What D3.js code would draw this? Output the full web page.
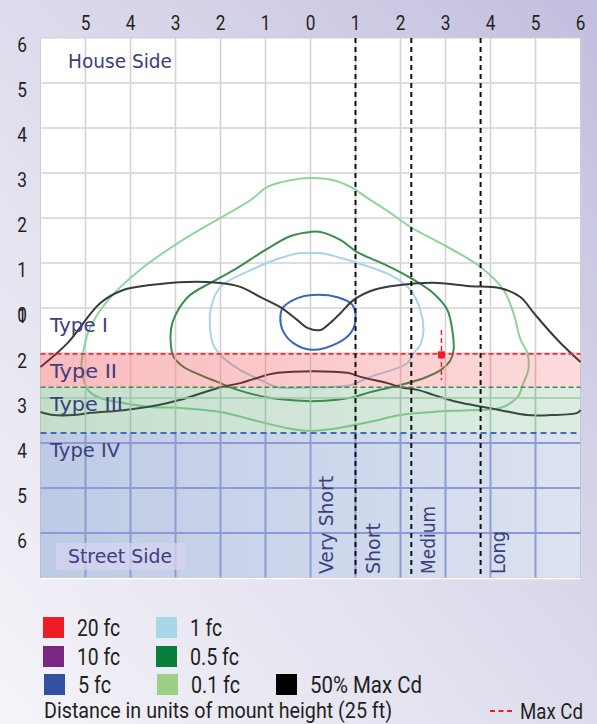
<!DOCTYPE html>
<html><head><meta charset="utf-8">
<script src="https://cdn.jsdelivr.net/npm/d3@7"></script>
<style>body{margin:0;background:#fff;} svg{display:block;}</style>
</head><body>
<script>
// ---------- data ----------
const xTicks = [-5,-4,-3,-2,-1,0,1,2,3,4,5,6];
const xTickLabels = ["5","4","3","2","1","0","1","2","3","4","5","6"];
const houseTicks = [6,5,4,3,2,1,0];
const streetTicks = [1,2,3,4,5,6];
const gridX = [-5,-4,-3,-2,-1,0,1,2,3,4,5];
const gridY = [5,4,3,2,1,0,-1,-2,-3,-4,-5];

const bandNames = ["Type I","Type II","Type III","Type IV"];
const bandTop = [0, -1.02, -1.76, -2.78];
const bandBottom = [-1.02, -1.76, -2.78, -6];

const throwNames = ["Very Short","Short","Medium","Long"];
const throwLineX = [1.0, 1.0, 2.24, 3.78];
const throwSide = ["left","right","right","right"];

const maxCdX = 2.91, maxCdY = -1.04, maxCdY1 = -0.49, maxCdY2 = -1.6;

const c01 = [[0,2.89],[0.51,2.84],[0.89,2.69],[1.27,2.44],[1.78,2.11],[2.22,1.80],[2.89,1.44],[3.78,0.91],[4.29,0.40],[4.51,-0.11],[4.67,-0.71],[4.82,-1.00],[4.84,-1.38],[4.73,-1.67],[4.60,-1.98],[4.22,-2.22],[3.49,-2.27],[2.73,-2.31],[2.00,-2.38],[1.33,-2.53],[0.60,-2.67],[0,-2.73],[-0.51,-2.67],[-1.27,-2.49],[-2.00,-2.31],[-2.89,-2.22],[-3.56,-2.20],[-4.16,-2.11],[-4.67,-2.00],[-4.93,-1.84],[-5.04,-1.60],[-5.09,-1.27],[-5.02,-0.82],[-4.89,-0.42],[-4.44,0.24],[-3.71,0.91],[-2.73,1.58],[-1.33,2.40],[-0.96,2.69],[-0.44,2.84]];
const c05 = [[0,1.69],[0.22,1.69],[0.67,1.51],[1.04,1.24],[1.67,0.96],[2.22,0.67],[2.73,0.33],[3.04,-0.04],[3.16,-0.56],[3.18,-0.93],[3.11,-1.16],[2.89,-1.38],[2.51,-1.56],[2.00,-1.71],[1.33,-1.87],[0.96,-1.98],[0.60,-2.04],[0,-2.07],[-0.51,-2.04],[-0.89,-2.00],[-1.62,-1.82],[-2.00,-1.67],[-2.44,-1.49],[-2.82,-1.31],[-3.04,-1.09],[-3.11,-0.71],[-3.07,-0.33],[-2.73,0.24],[-2.22,0.56],[-1.71,0.84],[-1.00,1.29],[-0.44,1.60]];
const c1 = [[0,1.22],[0.22,1.22],[1.04,1.00],[1.78,0.73],[2.22,0.40],[2.44,-0.04],[2.51,-0.49],[2.44,-0.82],[2.29,-1.00],[2.16,-1.22],[2.00,-1.31],[1.33,-1.53],[0.82,-1.73],[0,-1.76],[-0.73,-1.76],[-1.11,-1.60],[-1.56,-1.38],[-1.96,-1.09],[-2.16,-0.82],[-2.22,-0.56],[-2.22,-0.04],[-2.00,0.47],[-1.33,0.84],[-0.67,1.11],[-0.22,1.22]];
const c5 = [[-0.62,0],[-0.29,0.22],[0.04,0.29],[0.60,0.24],[0.93,0.07],[1.00,-0.27],[0.89,-0.56],[0.60,-0.78],[0.04,-0.93],[-0.38,-0.78],[-0.62,-0.49],[-0.67,-0.20]];
const cdUpper = [[-6,-1.31],[-5.40,-0.78],[-4.67,0.11],[-4.16,0.40],[-3.56,0.51],[-2.73,0.58],[-2.07,0.56],[-1.56,0.47],[-1.11,0.24],[-0.67,0.02],[-0.29,-0.27],[-0.07,-0.44],[0.22,-0.49],[0.44,-0.33],[0.67,-0.11],[0.96,0.18],[1.40,0.40],[2.00,0.51],[2.73,0.56],[3.49,0.49],[4.22,0.44],[4.67,0.24],[4.96,-0.11],[5.49,-0.71],[6.0,-1.20]];
const cdLower = [[-6,-2.31],[-5.71,-2.38],[-5.27,-2.38],[-4.89,-2.33],[-4.16,-2.27],[-3.40,-2.16],[-2.89,-2.04],[-2.00,-1.76],[-1.56,-1.67],[-1.27,-1.58],[-0.73,-1.44],[0.82,-1.44],[1.11,-1.53],[1.71,-1.67],[2.00,-1.76],[2.38,-1.82],[2.73,-1.93],[3.27,-2.09],[3.84,-2.20],[4.22,-2.27],[4.82,-2.38],[5.33,-2.38],[5.93,-2.33],[6.0,-2.27]];

const legendNames = ["20 fc","10 fc","5 fc","1 fc","0.5 fc","0.1 fc","50% Max Cd"];
const legendColors = ["#ee1c25","#7b2680","#3451a1","#a8d8e8","#0a7e3c","#9ccf88","#000000"];

// ---------- drawing ----------
const W = 597, H = 724;
const svg = d3.select("body").append("svg").attr("width", W).attr("height", H);
const defs = svg.append("defs");

const bg = defs.append("linearGradient").attr("id","bg").attr("x1","0").attr("y1","1").attr("x2","1").attr("y2","0");
bg.append("stop").attr("offset","0").attr("stop-color","#f5f4f9");
bg.append("stop").attr("offset","0.5").attr("stop-color","#dddcec");
bg.append("stop").attr("offset","1").attr("stop-color","#c1bfde");
svg.append("rect").attr("width",W).attr("height",H).attr("fill","url(#bg)");

const x = d3.scaleLinear().domain([-6,6]).range([40.5,580.5]);
const y = d3.scaleLinear().domain([-6,6]).range([578,38]);

const plot = svg.append("g");
plot.append("rect").attr("x",x(-6)).attr("y",y(6)).attr("width",x(6)-x(-6)).attr("height",y(-6)-y(6))
  .attr("fill","#fff").attr("stroke","#d0d0d0").attr("stroke-width",1);

// grid in the white (house / Type I) zone
const gWhite = plot.append("g").attr("stroke","#d3d3d3").attr("stroke-width",1.6);
gWhite.selectAll("line.v").data(gridX).join("line").attr("x1",d=>x(d)).attr("x2",d=>x(d)).attr("y1",y(6)).attr("y2",y(bandTop[1]));
gWhite.selectAll("line.h").data(gridY.filter(v=>v>bandTop[1])).join("line").attr("x1",x(-6)).attr("x2",x(6)).attr("y1",d=>y(d)).attr("y2",d=>y(d));

// contours
const closed = d3.line().x(d=>x(d[0])).y(d=>y(d[1])).curve(d3.curveCatmullRomClosed.alpha(0.5));
const open = d3.line().x(d=>x(d[0])).y(d=>y(d[1])).curve(d3.curveCatmullRom.alpha(0.5));
const cg = plot.append("g").attr("fill","none").attr("stroke-width",2).attr("stroke-linejoin","round");
cg.append("path").attr("d",closed(c01)).attr("stroke","#8fd49b");
cg.append("path").attr("d",closed(c05)).attr("stroke","#3c8c50");
cg.append("path").attr("d",closed(c1)).attr("stroke","#a6d5e6");
cg.append("path").attr("d",closed(c5)).attr("stroke","#3a66bd");
cg.append("path").attr("d",open(cdUpper)).attr("stroke","#3a3a3a");
cg.append("path").attr("d",open(cdLower)).attr("stroke","#3a3a3a");

// bands
const bandBase = [null,"#ee1c25","#2e8b4a","#3a5fb0"];
const bandOp = [null,[0.30,0.16],[0.28,0.16],[0.33,0.18]];
const bandGrid = [null,"#e9a6ab","#9fc6a8","#8d9bd4"];
const bandGridW = [null,1.5,1.6,2];
const bandDash = [null,"#e8303a","#3e8a55","#4668b8"];
for (let i=1;i<4;i++){
  const gr = defs.append("linearGradient").attr("id","band"+i);
  gr.append("stop").attr("offset","0").attr("stop-color",bandBase[i]).attr("stop-opacity",bandOp[i][0]);
  gr.append("stop").attr("offset","1").attr("stop-color",bandBase[i]).attr("stop-opacity",bandOp[i][1]);
  plot.append("rect").attr("x",x(-6)).attr("width",x(6)-x(-6)).attr("y",y(bandTop[i])).attr("height",y(bandBottom[i])-y(bandTop[i]))
    .attr("fill","url(#band"+i+")");
  const gg = plot.append("g").attr("stroke",bandGrid[i]).attr("stroke-width",bandGridW[i]);
  gg.selectAll("line.v").data(gridX).join("line").attr("x1",d=>x(d)).attr("x2",d=>x(d)).attr("y1",y(bandTop[i])).attr("y2",y(bandBottom[i]));
  gg.selectAll("line.h").data(gridY.filter(v=>v<bandTop[i] && v>bandBottom[i])).join("line")
    .attr("x1",x(-6)).attr("x2",x(6)).attr("y1",d=>y(d)).attr("y2",d=>y(d));
}
// band boundaries dashed
for (let i=1;i<4;i++){
  plot.append("line").attr("x1",x(-6)).attr("x2",x(6)).attr("y1",y(bandTop[i])).attr("y2",y(bandTop[i]))
    .attr("stroke",bandDash[i]).attr("stroke-width",i===3?2:1.6).attr("stroke-dasharray",i===3?"6,4":"5,3");
}
plot.append("line").attr("x1",x(-6)).attr("x2",x(6)).attr("y1",y(-6)+0.5).attr("y2",y(-6)+0.5).attr("stroke","#fff").attr("stroke-width",1.5);

// throw lines
const throwXs = Array.from(new Set(throwLineX));
plot.selectAll("line.throw").data(throwXs).join("line")
  .attr("x1",d=>x(d)).attr("x2",d=>x(d)).attr("y1",y(6)).attr("y2",y(-6))
  .attr("stroke","#111").attr("stroke-width",2).attr("stroke-dasharray","5,4");

// Max Cd marker
plot.append("line").attr("x1",x(maxCdX)).attr("x2",x(maxCdX)).attr("y1",y(maxCdY1)).attr("y2",y(maxCdY2))
  .attr("stroke","#ee1c25").attr("stroke-width",1.5).attr("stroke-dasharray","5,3");
plot.append("rect").attr("x",x(maxCdX)-3.5).attr("y",y(maxCdY)-3.5).attr("width",7).attr("height",7).attr("fill","#ee1c25");

// in-plot labels
const lblFont = "'DejaVu Sans', Verdana, sans-serif";
const lblColor = "#3c407e";
const typeW = [58,67,73,70];
plot.selectAll("text.type").data(bandNames).join("text")
  .attr("x",50).attr("y",(d,i)=>y(bandTop[i])+24)
  .attr("font-family",lblFont).attr("font-size",19).attr("fill",lblColor)
  .attr("textLength",(d,i)=>typeW[i]).attr("lengthAdjust","spacingAndGlyphs").text(d=>d);

plot.append("text").attr("x",68).attr("y",68).attr("font-family",lblFont).attr("font-size",19).attr("fill",lblColor)
  .attr("textLength",104).attr("lengthAdjust","spacingAndGlyphs").text("House Side");
plot.append("rect").attr("x",56).attr("y",543).attr("width",129).attr("height",27).attr("fill","#d6d3ef").attr("opacity",0.75);
plot.append("text").attr("x",68).attr("y",563).attr("font-family",lblFont).attr("font-size",19).attr("fill",lblColor)
  .attr("textLength",104).attr("lengthAdjust","spacingAndGlyphs").text("Street Side");

const throwW = [98,51,68,43];
plot.selectAll("text.throw").data(throwNames).join("text")
  .attr("transform",(d,i)=>{
    const bx = throwSide[i]==="left" ? x(throwLineX[i]) - 23 : x(throwLineX[i]) + 24;
    return `translate(${bx},574) rotate(-90)`;
  })
  .attr("font-family",lblFont).attr("font-size",19).attr("fill",lblColor)
  .attr("textLength",(d,i)=>throwW[i]).attr("lengthAdjust","spacingAndGlyphs").text(d=>d);

// axes labels
const axFont = "Roboto, 'Liberation Sans', sans-serif";
const axColor = "#231f20";
svg.selectAll("text.xt").data(xTicks).join("text")
  .attr("transform",d=>`translate(${x(d)},30) scale(0.82,1)`)
  .attr("text-anchor","middle").attr("font-family",axFont).attr("font-size",21).attr("fill",axColor)
  .text((d,i)=>xTickLabels[i]);
svg.selectAll("text.yh").data(houseTicks).join("text")
  .attr("transform",d=>`translate(22,${y(d)+13.5}) scale(0.82,1)`)
  .attr("text-anchor","middle").attr("font-family",axFont).attr("font-size",21).attr("fill",axColor)
  .text(d=>d);
svg.selectAll("text.ys").data(streetTicks).join("text")
  .attr("transform",d=>`translate(22,${y(-(d-1))+15}) scale(0.82,1)`)
  .attr("text-anchor","middle").attr("font-family",axFont).attr("font-size",21).attr("fill",axColor)
  .text(d=>d);

// legend
const legX = [43,43,44,156,156,157,276];
const legY = [617,646,674,617,646,674,674];
const legTW = [43,43,33,32,49,49,112];
const lg = svg.append("g");
lg.selectAll("rect").data(legendNames).join("rect")
  .attr("x",(d,i)=>legX[i]).attr("y",(d,i)=>legY[i]).attr("width",21).attr("height",21)
  .attr("fill",(d,i)=>legendColors[i]);
lg.selectAll("text").data(legendNames).join("text")
  .attr("x",(d,i)=>legX[i]+34).attr("y",(d,i)=>legY[i]+19)
  .attr("font-family",axFont).attr("font-size",23).attr("fill",axColor)
  .attr("textLength",(d,i)=>legTW[i]).attr("lengthAdjust","spacingAndGlyphs").text(d=>d);
svg.append("text").attr("x",44).attr("y",718).attr("font-family",axFont).attr("font-size",22).attr("fill",axColor)
  .attr("textLength",348).attr("lengthAdjust","spacingAndGlyphs").text("Distance in units of mount height (25 ft)");
svg.append("line").attr("x1",490).attr("x2",513).attr("y1",711).attr("y2",711)
  .attr("stroke","#ee1c25").attr("stroke-width",2).attr("stroke-dasharray","5,3.5");
svg.append("text").attr("x",520).attr("y",719).attr("font-family",axFont).attr("font-size",22).attr("fill",axColor)
  .attr("textLength",63).attr("lengthAdjust","spacingAndGlyphs").text("Max Cd");
</script>
</body></html>
